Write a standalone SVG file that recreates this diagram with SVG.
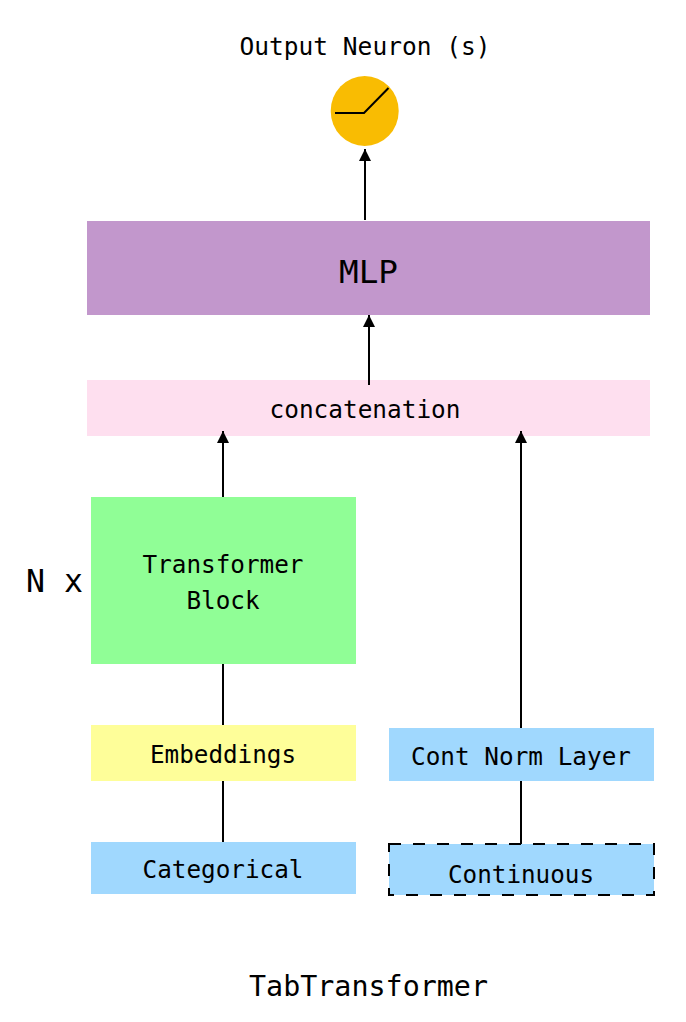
<svg xmlns="http://www.w3.org/2000/svg" width="686" height="1022" viewBox="0 0 686 1022">
<style>
text{font-family:"DejaVu Sans Mono","Liberation Mono",monospace;fill:#000;text-anchor:middle;font-size:24px}
.l{font-size:32px}
.c{stroke:#000;stroke-width:2;fill:none}
.a{marker-end:url(#arr)}
</style>
<defs><marker id="arr" markerUnits="userSpaceOnUse" markerWidth="12" markerHeight="12" refX="12" refY="6" orient="auto"><path d="M0 0L12 6L0 12Z" fill="#000"/></marker></defs>
<rect width="686" height="1022" fill="#fff"/>
<g id="output"><text x="365" y="55" textLength="251" lengthAdjust="spacingAndGlyphs">Output Neuron (s)</text>
<ellipse cx="364.700" cy="111" rx="34" ry="35" fill="#f9bc02"/>
<path class="c" d="M335 113H364L388.500 88"/></g>
<g id="mlp"><rect x="87" y="221" width="563" height="94" fill="#c297cc"/><text class="l" x="368.500" y="283" textLength="59" lengthAdjust="spacingAndGlyphs">MLP</text></g>
<g id="concat"><rect x="87" y="380" width="563" height="56" fill="#fedfef"/><text x="365" y="418" textLength="191" lengthAdjust="spacingAndGlyphs">concatenation</text></g>
<g id="transformer"><rect x="91" y="497" width="265" height="167" fill="#90fe96"/><text x="223" y="573" textLength="161" lengthAdjust="spacingAndGlyphs">Transformer</text><text x="223" y="609" textLength="73" lengthAdjust="spacingAndGlyphs">Block</text></g>
<g id="nx"><text class="l" x="54.500" y="592" textLength="57" lengthAdjust="spacingAndGlyphs">N x</text></g>
<g id="embeddings"><rect x="91" y="725" width="265" height="56" fill="#fefe99"/><text x="223" y="763" textLength="146" lengthAdjust="spacingAndGlyphs">Embeddings</text></g>
<g id="cont-norm"><rect x="389" y="728" width="265" height="53" fill="#a0d8fe"/><text x="521" y="765" textLength="220" lengthAdjust="spacingAndGlyphs">Cont Norm Layer</text></g>
<g id="categorical"><rect x="91" y="842" width="265" height="52" fill="#a0d8fe"/><text x="223" y="878" textLength="161" lengthAdjust="spacingAndGlyphs">Categorical</text></g>
<g id="continuous"><rect x="389" y="844" width="265" height="51" fill="#a0d8fe" stroke="#000" stroke-width="2" stroke-dasharray="12 12"/><text x="521" y="883" textLength="146" lengthAdjust="spacingAndGlyphs">Continuous</text></g>
<g id="title"><text x="368.500" y="996" style="font-size:28px" textLength="239" lengthAdjust="spacingAndGlyphs">TabTransformer</text></g>
<g id="connectors">
<path class="c a" d="M365 220V149"/>
<path class="c a" d="M369 385V315"/>
<path class="c a" d="M223 497V431"/>
<path class="c a" d="M521 728V431"/>
<path class="c" d="M223 664V725"/>
<path class="c" d="M223 781V842"/>
<path class="c" d="M521 781V844"/>
</g>
</svg>
